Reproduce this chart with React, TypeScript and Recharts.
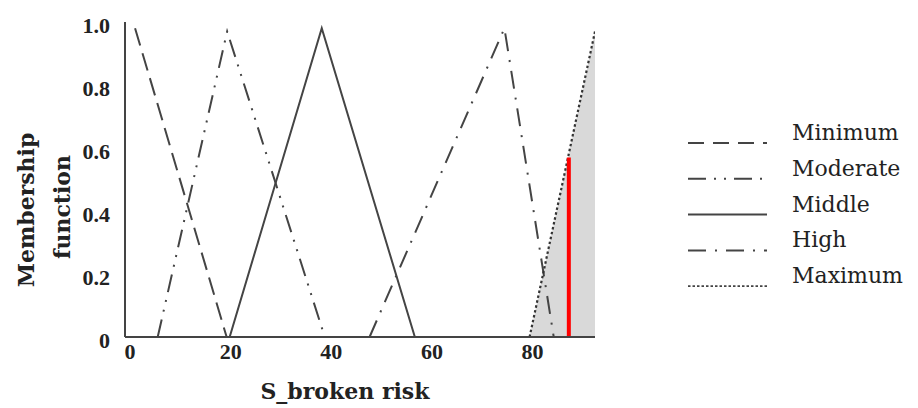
import React from 'react'
import { ComposedChart, XAxis, YAxis, Line, Area } from 'recharts'

// membership functions of S_broken risk
const minimumData = [
  { x: 1, y: 0.98 },
  { x: 19.2, y: 0 },
]
const moderateData = [
  { x: 5.5, y: 0 },
  { x: 19.3, y: 0.97 },
  { x: 38.7, y: 0 },
]
const middleData = [
  { x: 19.8, y: 0 },
  { x: 38.1, y: 0.98 },
  { x: 56.6, y: 0 },
]
const highData = [
  { x: 47.6, y: 0 },
  { x: 74.4, y: 0.98 },
  { x: 84.2, y: 0 },
]
const maximumData = [
  { x: 79.4, y: 0 },
  { x: 92.4, y: 0.97 },
]
const outputData = [
  { x: 87.2, y: 0 },
  { x: 87.2, y: 0.57 },
]

const xTicks = [0, 20, 40, 60, 80]
const yTicks = [0, 0.2, 0.4, 0.6, 0.8, 1.0]

const legendItems = [
  { name: 'Minimum', dash: '16 9', width: 2 },
  { name: 'Moderate', dash: '18 8 2 8 2 8', width: 2 },
  { name: 'Middle', dash: '', width: 2 },
  { name: 'High', dash: '18 9 2 9', width: 2 },
  { name: 'Maximum', dash: '2.5 2', width: 1.8 },
]

const ink = '#444'
const tickFont = { fontFamily: 'Liberation Serif', fontWeight: 700, fontSize: 22, fill: '#222' }

// drawn beside the chart so it does not take space from the plot
const LegendBox = () => (
  <svg width={238} height={190} style={{ position: 'absolute', left: 680, top: 110 }}>
    {legendItems.map((it, i) => {
      const base = 30 + i * 35.8
      return (
        <g key={it.name}>
          <line x1={8} x2={87} y1={base + 3} y2={base + 3} stroke={ink} strokeWidth={it.width} strokeDasharray={it.dash || undefined} />
          <text x={112} y={base} fontFamily="DejaVu Serif" fontSize={22} fill="#222">
            {it.name}
          </text>
        </g>
      )
    })}
  </svg>
)

const YLabel = () => (
  <g fontFamily="DejaVu Serif" fontWeight={700} fontSize={22} fill="#222">
    <text x={34} y={210} textAnchor="middle" transform="rotate(-90 34 210)">
      Membership
    </text>
    <text x={70} y={207} textAnchor="middle" transform="rotate(-90 70 207)">
      function
    </text>
  </g>
)

const XLabel = () => (
  <text x={345} y={399} textAnchor="middle" fontFamily="DejaVu Serif" fontWeight={700} fontSize={22} fill="#222">
    S_broken risk
  </text>
)

const App = () => {
  return (
    <div style={{ position: 'absolute', left: 0, top: 0, width: 918, height: 408, background: '#fff' }}>
      <ComposedChart width={918} height={408} margin={{ top: 22, right: 323, bottom: 5, left: 65 }}>
        <XAxis
          type="number"
          dataKey="x"
          domain={[-1, 92.4]}
          ticks={xTicks}
          allowDataOverflow
          height={66}
          tickLine={false}
          tickSize={0}
          tickMargin={6}
          axisLine={{ stroke: ink, strokeWidth: 2 }}
          tick={tickFont}
          label={{ content: XLabel }}
        />
        <YAxis
          type="number"
          dataKey="y"
          domain={[0, 1]}
          ticks={yTicks}
          width={60}
          tickLine={false}
          tickSize={0}
          tickMargin={15}
          axisLine={{ stroke: ink, strokeWidth: 2 }}
          tick={{ ...tickFont, dy: 3 }}
          tickFormatter={(v: number) => (v === 0 ? '0' : v.toFixed(1))}
          label={{ content: YLabel }}
        />
        <Area data={maximumData} dataKey="y" type="linear" fill="#d9d9d9" fillOpacity={1} stroke="none" isAnimationActive={false} />
        <Line data={minimumData} dataKey="y" name="Minimum" type="linear" stroke={ink} strokeWidth={2} strokeDasharray="18 8" dot={false} isAnimationActive={false} />
        <Line data={moderateData} dataKey="y" name="Moderate" type="linear" stroke={ink} strokeWidth={2} strokeDasharray="18 8 2 8 2 8" dot={false} isAnimationActive={false} />
        <Line data={middleData} dataKey="y" name="Middle" type="linear" stroke={ink} strokeWidth={2} dot={false} isAnimationActive={false} />
        <Line data={highData} dataKey="y" name="High" type="linear" stroke={ink} strokeWidth={2} strokeDasharray="18 9 2 9" dot={false} isAnimationActive={false} />
        <Line data={maximumData} dataKey="y" name="Maximum" type="linear" stroke="#333" strokeWidth={2.2} strokeDasharray="2.5 2.5" dot={false} isAnimationActive={false} />
        <Line data={outputData} dataKey="y" type="linear" stroke="#ff0000" strokeWidth={4} dot={false} isAnimationActive={false} />
      </ComposedChart>
      <LegendBox />
    </div>
  )
}

export default App
